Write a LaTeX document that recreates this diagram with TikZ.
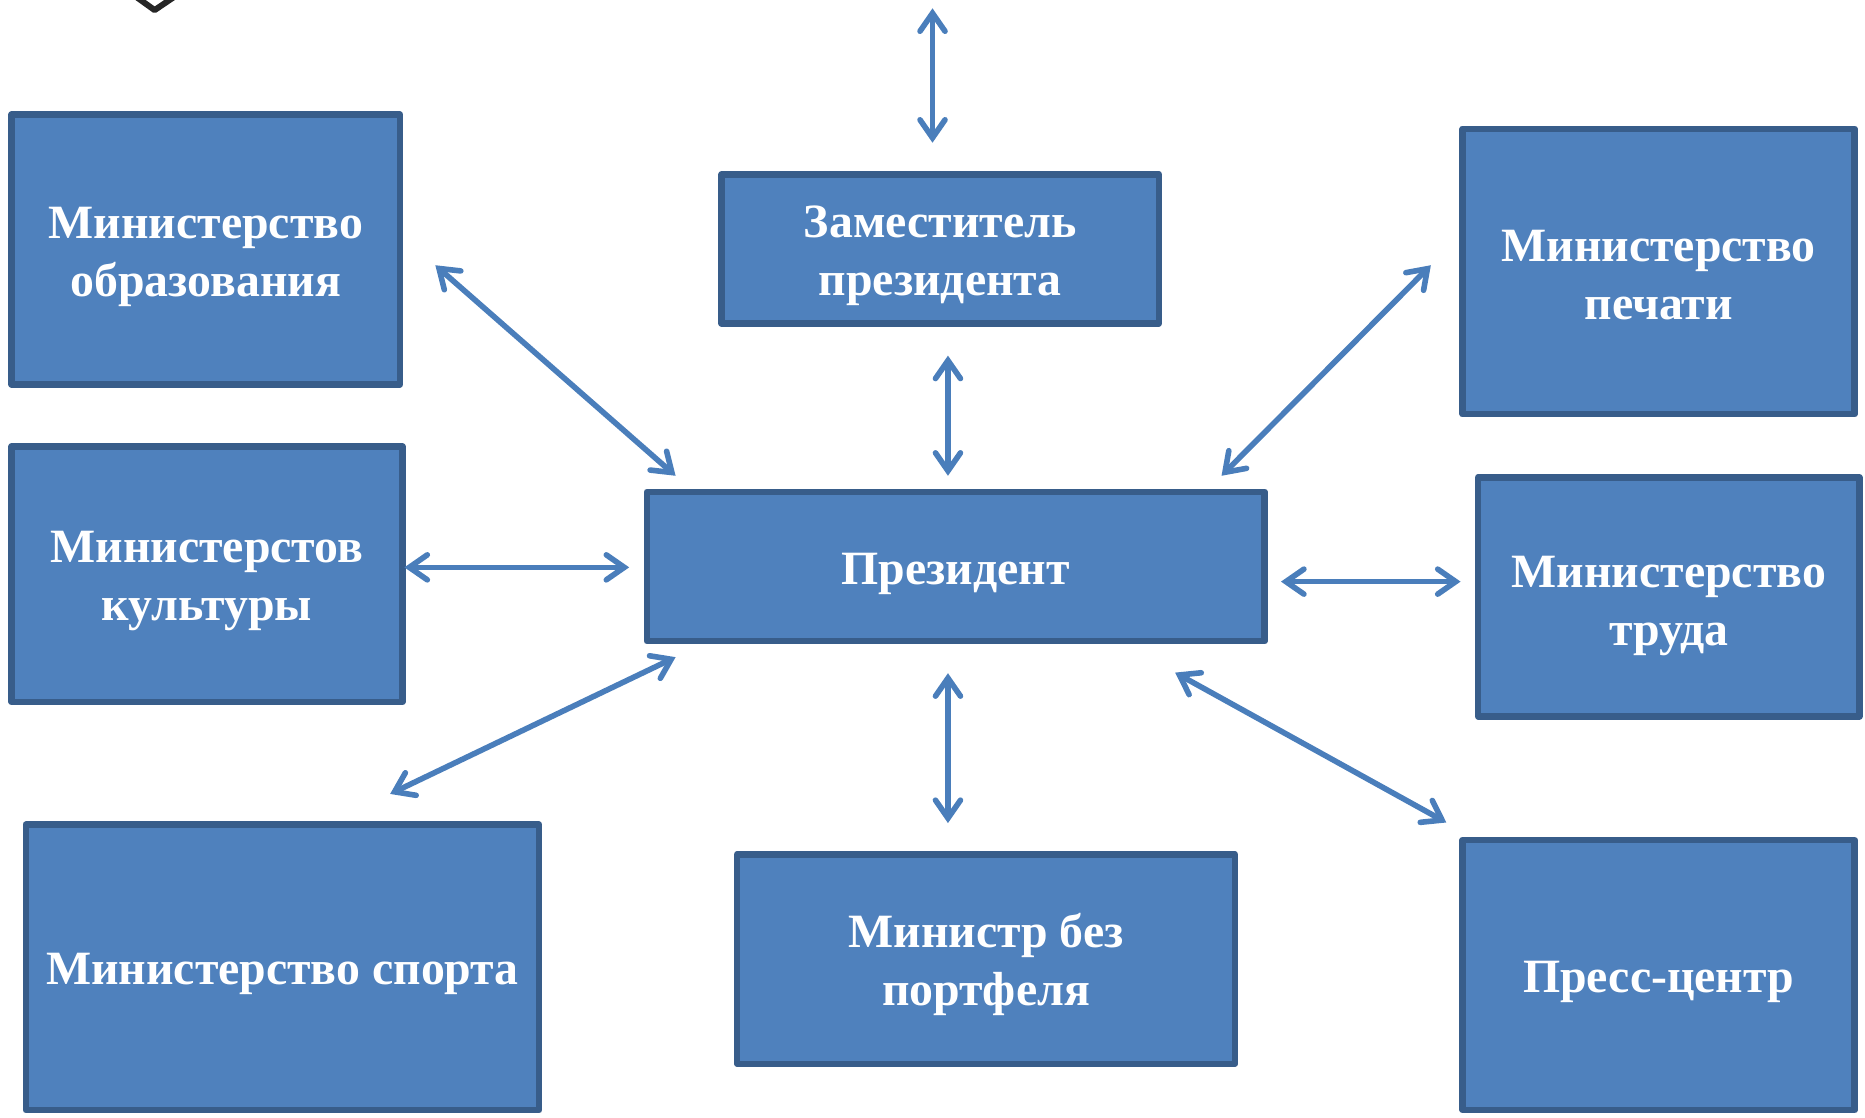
\documentclass[tikz,border=0pt]{standalone}
\usepackage{fontspec}
\setmainfont{Liberation Serif}
\usetikzlibrary{arrows.meta}
\definecolor{boxfill}{HTML}{4F81BD}
\definecolor{boxline}{HTML}{385D8A}
\definecolor{arrowline}{HTML}{4A7EBB}
\newdimen\uu \uu=0.5947pt
\newcommand{\lowtext}[1]{\rule{0pt}{#1}}
\tikzset{
  unitbox/.style={draw=boxline,fill=boxfill,line width=3.2pt,line join=round,inner sep=0pt,
    text=white,align=center,font=\fontsize{23.9}{29}\selectfont\bfseries},
  link/.style={draw=arrowline,line width=2.8pt,line cap=round,
    {Straight Barb[length=9pt,width=12.5pt,line cap=round,line join=miter]}-{Straight Barb[length=9pt,width=12.5pt,line cap=round,line join=miter]}},
}
\begin{document}
\begin{tikzpicture}[x=0.5947pt,y=-0.5947pt]
\useasboundingbox (0,0) rectangle (1568,939.2);
% fragment at the top edge
\coordinate (fa) at (114,-3);
\coordinate (fb) at (130,8.5);
\coordinate (fc) at (147,-3);
\draw[black!85,line width=3pt,line join=round] (fa) -- (fb) -- (fc);
% boxes
\node[unitbox,minimum width=326.5\uu,minimum height=227\uu] (edu) at (173,209.8) {\lowtext{22.6pt}Министерство\\образования};
\node[unitbox,minimum width=328.5\uu,minimum height=215\uu] (cult) at (174,482.8) {\lowtext{22.6pt}Министерстов\\культуры};
\node[unitbox,minimum width=431.5\uu,minimum height=240\uu] (sport) at (237.5,813.3) {\lowtext{22.6pt}Министерство спорта};
\node[unitbox,minimum width=418.5\uu,minimum height=176\uu] (noport) at (829,806.3) {\lowtext{22.6pt}Министр без\\портфеля};
\node[unitbox,minimum width=329.5\uu,minimum height=227\uu] (press) at (1394.5,819.8) {\lowtext{22.6pt}Пресс-центр};
\node[unitbox,minimum width=320.5\uu,minimum height=201\uu] (labor) at (1403,501.8) {\lowtext{24.6pt}Министерство\\труда};
\node[unitbox,minimum width=329.5\uu,minimum height=240\uu] (print) at (1394.5,228.3) {\lowtext{19pt}Министерство\\печати};
\node[unitbox,minimum width=367.5\uu,minimum height=125.5\uu] (dep) at (790.5,209.3) {\lowtext{22.6pt}Заместитель\\президента};
\node[unitbox,minimum width=519.5\uu,minimum height=125.5\uu] (pres) at (803.5,476.3) {\lowtext{22.6pt}Президент};
% free arrow ends
\coordinate (t1) at (784,7);   \coordinate (t2) at (784,120);
\coordinate (d1) at (797,299); \coordinate (d2) at (797,400);
\coordinate (e1) at (366,223); \coordinate (e2) at (568,400);
\coordinate (c1) at (340,477); \coordinate (c2) at (529,477);
\coordinate (s1) at (568,552.5); \coordinate (s2) at (328,667.5);
\coordinate (n1) at (797,566); \coordinate (n2) at (797,692);
\coordinate (r1) at (988,565.5); \coordinate (r2) at (1216,691.5);
\coordinate (l1) at (1077,489);\coordinate (l2) at (1228,489);
\coordinate (p1) at (1203,223);\coordinate (p2) at (1027,400);
\draw[link] (t1) -- (t2);
\draw[link] (d1) -- (d2);
\draw[link] (e1) -- (e2);
\draw[link] (c1) -- (c2);
\draw[link] (s1) -- (s2);
\draw[link] (n1) -- (n2);
\draw[link] (r1) -- (r2);
\draw[link] (l1) -- (l2);
\draw[link] (p1) -- (p2);
\end{tikzpicture}
\end{document}
